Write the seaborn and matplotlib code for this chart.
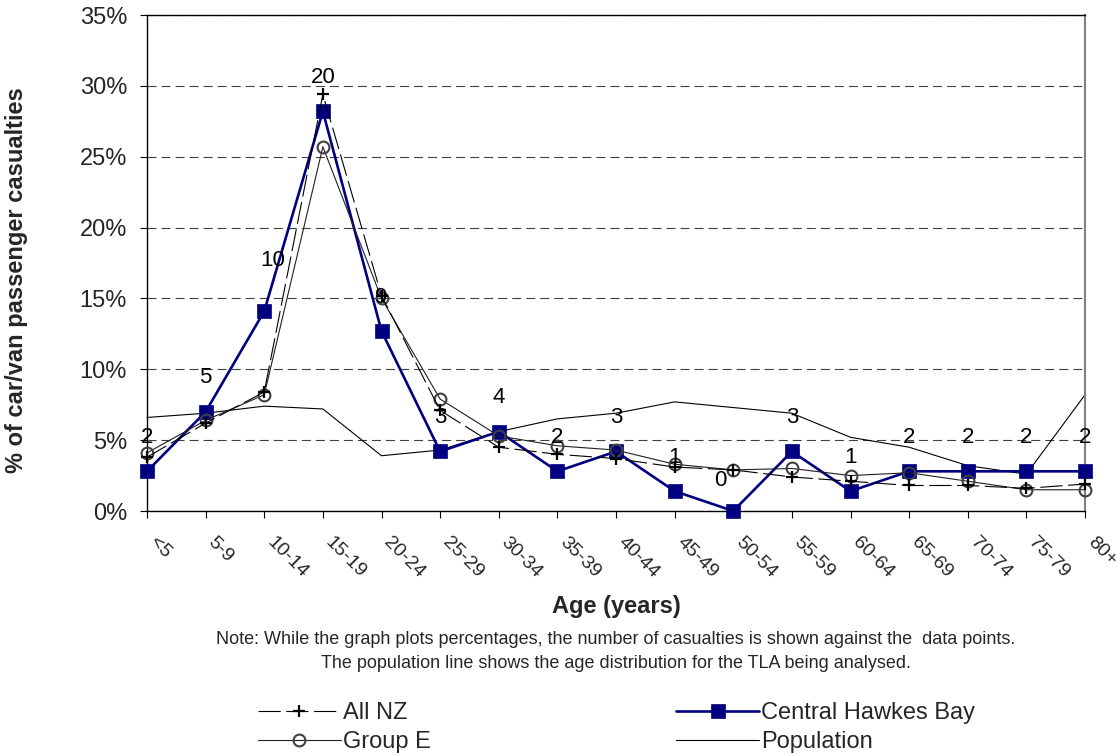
import numpy as np
import pandas as pd
import matplotlib
matplotlib.use("Agg")
import matplotlib.pyplot as plt
import matplotlib.transforms as mtransforms
import seaborn as sns

# ---------------- data ----------------
age_groups = ["<5", "5-9", "10-14", "15-19", "20-24", "25-29", "30-34", "35-39",
              "40-44", "45-49", "50-54", "55-59", "60-64", "65-69", "70-74", "75-79", "80+"]
chb_pct = [2.8, 7.0, 14.1, 28.2, 12.7, 4.2, 5.6, 2.8, 4.2, 1.4, 0.0, 4.2, 1.4, 2.8, 2.8, 2.8, 2.8]
chb_counts = [2, 5, 10, 20, 9, 3, 4, 2, 3, 1, 0, 3, 1, 2, 2, 2, 2]
all_nz_pct = [3.8, 6.2, 8.4, 29.4, 15.2, 7.1, 4.5, 4.0, 3.7, 3.1, 2.9, 2.4, 2.1, 1.8, 1.8, 1.6, 1.9]
group_e_pct = [4.1, 6.4, 8.2, 25.7, 15.0, 7.9, 5.3, 4.6, 4.3, 3.3, 2.9, 3.0, 2.5, 2.7, 2.1, 1.5, 1.5]
population_pct = [6.6, 6.9, 7.4, 7.2, 3.9, 4.3, 5.6, 6.5, 6.9, 7.7, 7.3, 6.9, 5.2, 4.5, 3.2, 2.6, 8.2]
y_ticks = [0, 5, 10, 15, 20, 25, 30, 35]

# ---------------- style ----------------
sns.set_theme(style="white")
plt.rcParams["font.family"] = ["Liberation Sans", "DejaVu Sans"]
plt.rcParams["lines.scale_dashes"] = False

df = pd.DataFrame({
    "pos": np.arange(len(age_groups)),
    "age": age_groups,
    "chb": chb_pct,
    "allnz": all_nz_pct,
    "groupe": group_e_pct,
    "pop": population_pct,
})

W, H = 1116, 756
fig = plt.figure(figsize=(W / 100, H / 100), dpi=100)
ax = fig.add_axes([147 / W, 1 - 511 / H, (1085 - 147) / W, (511 - 15) / H])

navy = "#000080"
sns.lineplot(data=df, x="pos", y="pop", ax=ax, color="black", linewidth=0.8,
             errorbar=None, zorder=2, label="Population", clip_on=False)
sns.lineplot(data=df, x="pos", y="chb", ax=ax, color=navy, linewidth=1.9,
             marker="s", markersize=9.5, markerfacecolor=navy, markeredgecolor=navy,
             markeredgewidth=0.5, errorbar=None, zorder=3,
             label="Central Hawkes Bay", clip_on=False)
sns.lineplot(data=df, x="pos", y="groupe", ax=ax, color="#202020", linewidth=0.8,
             marker="o", markersize=8.5, markerfacecolor="none",
             markeredgecolor="#404040", markeredgewidth=1.5, errorbar=None,
             zorder=4, label="Group E", clip_on=False)
sns.lineplot(data=df, x="pos", y="allnz", ax=ax, color="black", linewidth=0.8,
             linestyle=(0, (16, 4)), marker="+", markersize=9,
             markeredgecolor="black", markeredgewidth=1.6, errorbar=None,
             zorder=5, label="All NZ", clip_on=False)

# data labels (casualty counts)
label_offsets = {2: (8, 51), 10: (-13, 30)}
for i, (v, c) in enumerate(zip(chb_pct, chb_counts)):
    dx, dy = label_offsets.get(i, (0, 34))
    ax.annotate(str(c), (i, v), xytext=(dx, dy), textcoords="offset pixels",
                ha="center", va="center", fontsize=16, color="black", zorder=6)

# axes
ax.set_xlim(0, len(age_groups) - 1)
ax.set_ylim(0, 35)
ax.set_xlabel("")
ax.set_ylabel("")
ax.set_yticks(y_ticks)
ax.set_yticklabels([f"{t}%" for t in y_ticks], fontsize=17)
ax.set_xticks(np.arange(len(age_groups)))
ax.set_xticklabels(age_groups, fontsize=14, rotation=-45, ha="left", va="center",
                   rotation_mode="anchor")
ax.tick_params(axis="y", direction="out", length=5, width=0.8, color="black",
               pad=9.4, left=True)
ax.tick_params(axis="x", direction="out", length=5, width=0.8, color="black",
               pad=16, bottom=True)
offset = mtransforms.ScaledTranslation(5 / 100, 0, fig.dpi_scale_trans)
for lab in ax.get_xticklabels():
    lab.set_transform(lab.get_transform() + offset)

ax.yaxis.grid(True, color="#404040", linestyle=(0, (6.5, 3.6)), linewidth=0.8)
ax.xaxis.grid(False)
ax.set_axisbelow(True)
for side in ["left", "bottom", "top"]:
    ax.spines[side].set_color("black")
    ax.spines[side].set_linewidth(1.0)
    ax.spines[side].set_visible(True)
ax.spines["right"].set_color("#808080")
ax.spines["right"].set_linewidth(1.5)
ax.spines["right"].set_visible(True)

# titles / notes
fig.text(17 / W, 1 - 280 / H, "% of car/van passenger casualties", rotation=90,
         fontsize=17, fontweight="bold", ha="center", va="center")
fig.text(616 / W, 1 - 607 / H, "Age (years)", fontsize=17, fontweight="bold",
         ha="center", va="center")
fig.text(616 / W, 1 - 640 / H,
         "Note: While the graph plots percentages, the number of casualties is shown against the  data points.",
         fontsize=13, ha="center", va="center")
fig.text(616 / W, 1 - 664 / H,
         "The population line shows the age distribution for the TLA being analysed.",
         fontsize=13, ha="center", va="center")

# legend
handles, labels = ax.get_legend_handles_labels()
hmap = dict(zip(labels, handles))
order = ["All NZ", "Group E", "Central Hawkes Bay", "Population"]
if ax.get_legend() is not None:
    ax.get_legend().remove()
fig.legend([hmap[k] for k in order], order, ncol=2, loc="upper left",
           bbox_to_anchor=(258 / W, 1 - 702 / H), frameon=False, fontsize=17,
           handlelength=3.5, handletextpad=0.1, columnspacing=10.4,
           labelspacing=0.3, borderpad=0, borderaxespad=0, numpoints=1)

fig.savefig("out.png", dpi=100)
